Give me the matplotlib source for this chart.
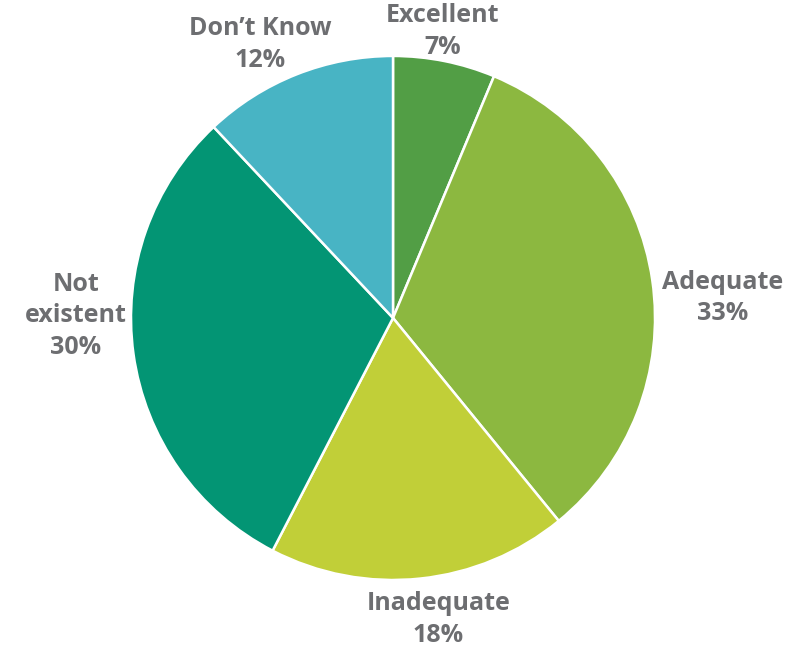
import numpy as np
import matplotlib
matplotlib.use("Agg")
import matplotlib.pyplot as plt

categories = ["Excellent", "Adequate", "Inadequate", "Not\nexistent", "Don\u2019t Know"]
values = [6.3, 32.8, 18.5, 30.4, 12.0]          # slice sizes as drawn
pct_labels = ["7%", "33%", "18%", "30%", "12%"]  # printed percentages
colors = ["#529E45", "#8CB840", "#C1CF38", "#039574", "#48B4C4"]

# label placement (radial factor, angle offset in degrees)
label_r = [1.11, 1.26, 1.165, 1.21, 1.16]
label_dang = [1.6, -4.8, 2.6, -8.3, 4.3]

fig = plt.figure(figsize=(7.93, 6.47), dpi=100)
ax = fig.add_axes([0.1652, 0.1036, 0.6608, 0.8099])
wedges, _ = ax.pie(values, colors=colors, startangle=90, counterclock=False,
                   radius=1.0, wedgeprops=dict(edgecolor="white", linewidth=1.8))
ax.set_xlim(-1, 1)
ax.set_ylim(-1, 1)
ax.axis("off")

for w, cat, p, rf, da in zip(wedges, categories, pct_labels, label_r, label_dang):
    ang = np.deg2rad((w.theta1 + w.theta2) / 2 + da)
    x, y = rf * np.cos(ang), rf * np.sin(ang)
    ax.text(x, y, f"{cat}\n{p}", ha="center", va="center", fontsize=18,
            fontweight="bold", color="#6D6E71", family=["Open Sans", "DejaVu Sans"],
            linespacing=1.35)

fig.savefig("out.png", dpi=100)
